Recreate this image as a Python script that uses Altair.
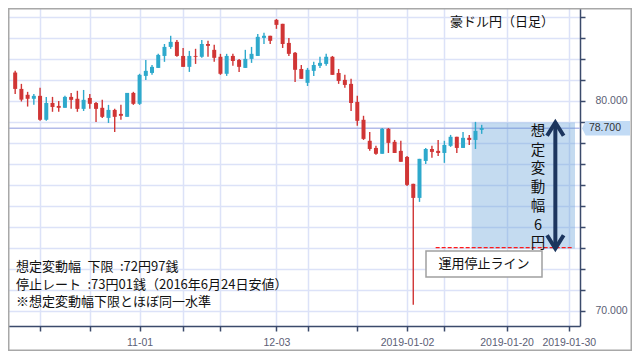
import altair as alt
import pandas as pd

# ---- data ----
opens = [81.35, 80.57, 80.29, 80.10, 80.24, 79.10, 79.90, 79.76, 79.67, 80.19,
         80.10, 79.62, 80.14, 79.90, 79.67, 79.19, 79.57, 79.38, 79.24, 80.38,
         79.86, 81.19, 81.33, 81.57, 82.14, 82.57, 82.81, 82.14, 81.62, 82.14,
         82.10, 82.71, 82.43, 82.10, 81.29, 82.14, 81.95, 81.57, 82.00, 82.14,
         83.00, 83.10, 83.86, 83.67, 82.76, 82.29, 81.52, 80.86, 81.43, 81.67,
         81.76, 82.10, 81.33, 81.00, 80.81, 79.95, 79.10, 78.10, 77.76, 77.48,
         78.67, 78.05, 77.62, 77.33, 76.05, 75.38, 77.14, 77.71, 77.62, 77.52,
         77.86, 78.29, 77.76, 78.24, 78.14, 78.62]
highs = [81.44, 80.81, 80.43, 80.33, 80.62, 80.19, 80.19, 80.00, 80.24, 80.38,
         80.48, 80.52, 80.33, 79.95, 80.05, 79.81, 79.62, 79.81, 80.38, 80.43,
         81.29, 81.95, 81.71, 82.24, 82.71, 83.10, 82.90, 82.52, 82.38, 82.48,
         82.90, 82.86, 82.67, 82.24, 82.24, 82.24, 82.00, 82.43, 82.57, 83.19,
         83.24, 83.10, 83.90, 83.67, 83.00, 82.33, 81.71, 81.57, 81.86, 82.10,
         82.24, 82.14, 81.52, 81.24, 81.05, 80.24, 79.29, 78.52, 77.86, 78.71,
         78.71, 78.14, 78.10, 77.38, 76.05, 77.24, 77.76, 77.86, 78.14, 78.10,
         78.38, 78.29, 78.52, 78.38, 79.00, 78.86]
lows = [80.33, 79.97, 79.73, 79.82, 79.05, 79.05, 79.48, 79.48, 79.67, 79.62,
        79.48, 79.52, 79.62, 79.00, 79.19, 78.95, 78.52, 79.10, 79.24, 79.81,
        79.81, 81.00, 81.24, 81.57, 81.86, 82.48, 82.10, 81.62, 81.38, 81.76,
        82.05, 82.10, 81.86, 81.24, 81.19, 81.67, 81.38, 81.57, 81.81, 82.14,
        82.71, 82.71, 83.43, 82.52, 82.14, 80.90, 81.05, 80.71, 81.19, 81.57,
        81.67, 81.24, 80.81, 80.62, 79.52, 78.81, 78.14, 77.62, 77.43, 77.48,
        77.52, 77.52, 77.10, 75.95, 70.29, 75.19, 77.00, 77.29, 77.38, 77.05,
        77.81, 77.52, 77.76, 77.90, 77.71, 78.43]
closes = [80.57, 80.06, 80.10, 80.24, 79.10, 79.90, 79.71, 79.67, 80.19, 80.05,
          79.62, 80.05, 79.86, 79.62, 79.24, 79.57, 79.24, 79.29, 80.38, 79.86,
          81.24, 81.43, 81.62, 82.19, 82.57, 82.81, 82.14, 81.62, 82.14, 82.10,
          82.71, 82.62, 82.05, 81.29, 82.14, 81.90, 81.62, 82.00, 82.24, 83.05,
          83.10, 82.86, 83.62, 82.71, 82.24, 81.48, 81.05, 81.48, 81.71, 81.81,
          82.10, 81.24, 80.95, 80.76, 79.90, 79.05, 78.19, 77.71, 77.48, 78.67,
          78.00, 77.52, 77.10, 76.00, 75.38, 77.24, 77.71, 77.57, 77.52, 77.90,
          78.29, 77.76, 78.24, 78.14, 78.57, 78.71]

tick_idx = [4, 12, 20, 27, 33, 42, 47, 55, 63, 69, 79, 89]
tick_text = ["", "", "11-01", "", "", "12-03", "", "", "2019-01-02", "", "2019-01-20", "2019-01-30"]
y_ticks = list(range(70, 85))
y_labeled = [70, 80]

current_price = 78.70
range_upper = 78.97
range_lower = 72.97
stop_rate = 73.01
range_start = 73.4
stop_line_start = 67.6
stop_line_end = 89.5
arrow_at = 86.84
x_domain = [-0.35, 90.0]
y_domain = [69.28, 84.423]

title_text = "豪ドル円（日足）"
vertical_text = ["想", "定", "変", "動", "幅", "6", "円"]
stop_label = "運用停止ライン"
note_lines = ["想定変動幅\u2002下限\u2002:72円97銭",
              "停止レート\u2002:73円01銭（2016年6月24日安値）",
              "※想定変動幅下限とほぼ同一水準"]

# ---- styling ----
RED = "#d03535"
BLUE = "#2ea9cc"
NAVY = "#1c355e"
GRID = "#dce2f8"
AXIS = "#3b4a6b"
JP = "Noto Sans CJK JP"

df = pd.DataFrame({"i": list(range(len(opens))), "open": opens, "high": highs,
                   "low": lows, "close": closes})
df["dir"] = ["up" if c >= o else "down" for o, c in zip(opens, closes)]

xs = alt.Scale(domain=x_domain, nice=False, zero=False)
ys = alt.Scale(domain=y_domain, nice=False, zero=False)
col = alt.Color("dir:N", scale=alt.Scale(domain=["up", "down"], range=[BLUE, RED]), legend=None)

x_expr = " : ".join(f"datum.value == {v} ? '{t}'" for v, t in zip(tick_idx, tick_text) if t) + " : ''"
y_expr = " || ".join(f"datum.value == {v}" for v in y_labeled) + " ? format(datum.value, '.3f') : ''"

x_axis = alt.Axis(values=tick_idx, labelExpr=x_expr, title=None, orient="bottom",
                  tickSize=5, labelPadding=6, domainColor=AXIS, tickColor=AXIS,
                  domainWidth=1.5, tickWidth=1.5, grid=True,
                  gridColor=GRID, gridWidth=1.5, labelColor="#5b6075",
                  labelFont="Liberation Sans", labelFontSize=10.5)
y_axis = alt.Axis(values=y_ticks, labelExpr=y_expr, title=None, orient="right",
                  tickSize=5, labelPadding=10, domainColor=AXIS, tickColor=AXIS,
                  domainWidth=1.5, tickWidth=1.5, grid=True,
                  gridColor=GRID, gridWidth=1.5, labelColor="#5b6075",
                  labelFont="Liberation Sans", labelFontSize=10.5, labelAlign="left",
                  labelBaseline="middle")


def X(field):
    return alt.X(field, scale=xs, axis=x_axis)


def Y(field):
    return alt.Y(field, scale=ys, axis=y_axis)


base = alt.Chart(df)

wicks = base.mark_rule(strokeWidth=1.4).encode(
    x=X("i:Q"), y=Y("low:Q"), y2="high:Q", color=col)
bodies = base.mark_bar(width=4).encode(
    x=X("i:Q"), y=Y("open:Q"), y2="close:Q", color=col)

price_df = pd.DataFrame({"p": [current_price]})
price_line = alt.Chart(price_df).mark_rule(color="#b3bbe9", strokeWidth=1.5).encode(y=Y("p:Q"))

range_df = pd.DataFrame({"x": [range_start], "x2": [x_domain[1]], "hi": [range_upper], "lo": [range_lower]})
range_box = alt.Chart(range_df).mark_rect(color="#5b9bd5", opacity=0.36).encode(
    x=X("x:Q"), x2="x2:Q", y=Y("hi:Q"), y2="lo:Q")

stop_df = pd.DataFrame({"x": [stop_line_start], "x2": [stop_line_end], "y": [stop_rate]})
stop_line = alt.Chart(stop_df).mark_rule(color="#ff1a1a", strokeWidth=1.3, strokeDash=[4, 2]).encode(
    x=X("x:Q"), x2="x2:Q", y=Y("y:Q"))

arrow_df = pd.DataFrame({"x": [arrow_at], "hi": [range_upper], "lo": [range_lower]})
shaft = alt.Chart(arrow_df).mark_rule(color=NAVY, strokeWidth=4).encode(
    x=X("x:Q"), y=Y("hi:Q"), y2="lo:Q")
head_up = alt.Chart(arrow_df).mark_point(shape="M-1,1.6L0,0L1,1.6", size=275, filled=False,
                                         strokeWidth=4, color=NAVY, opacity=1).encode(
    x=X("x:Q"), y=Y("hi:Q"))
head_dn = alt.Chart(arrow_df).mark_point(shape="M-1,-1.6L0,0L1,-1.6", size=275, filled=False,
                                         strokeWidth=4, color=NAVY, opacity=1).encode(
    x=X("x:Q"), y=Y("lo:Q"))

vtext = alt.Chart(price_df).mark_text(text=vertical_text, font=JP, fontSize=14.5, lineHeight=18.7,
                                      align="center", baseline="top", color="#111").encode(
    x=alt.value(530), y=alt.value(117))

title_mark = alt.Chart(price_df).mark_text(text=title_text, font=JP, fontSize=13,
                                           align="center", baseline="middle", color="#111").encode(
    x=alt.value(494), y=alt.value(14))

label_box = alt.Chart(price_df).mark_rect(fill="white", stroke="#a0a0a0", strokeWidth=1.5).encode(
    x=alt.value(418), x2=alt.value(534), y=alt.value(243), y2=alt.value(269))
label_text = alt.Chart(price_df).mark_text(text=stop_label, font=JP, fontSize=13,
                                           align="center", baseline="middle", color="#111").encode(
    x=alt.value(476), y=alt.value(256))

notes = alt.Chart(price_df).mark_text(text=note_lines, font=JP, fontSize=13, lineHeight=17.7,
                                      align="left", baseline="top", color="#111").encode(
    x=alt.value(8), y=alt.value(253))

callout = alt.Chart(price_df).mark_point(shape="M-0.85,-0.3L1,-0.3L1,0.3L-0.85,0.3L-1,0Z",
                                         size=2304, filled=True, color="#c2dbf5", opacity=1).encode(
    x=alt.value(598), y=Y("p:Q"))
callout_text = alt.Chart(price_df).mark_text(text="78.700", font="Liberation Sans", fontSize=10.5,
                                             align="center", baseline="middle", color="#333").encode(
    x=alt.value(597), y=Y("p:Q"))

frame = alt.Chart(price_df).mark_rect(fillOpacity=0, stroke="#a8a8a8", strokeWidth=1.5).encode(
    x=alt.value(0.75), x2=alt.value(623.25), y=alt.value(0.75), y2=alt.value(342.25))

chart = alt.layer(
    price_line, range_box, wicks, bodies, stop_line, shaft, head_up, head_dn,
    vtext, title_mark, label_box, label_text, notes, callout, callout_text, frame
).properties(
    width=572, height=318,
    autosize=alt.AutoSizeParams(type="none"),
    padding={"left": 0, "top": 0, "right": 52, "bottom": 25},
).configure_view(strokeWidth=0)

chart.save("out.html", embed_options={"renderer": "svg", "actions": False})
